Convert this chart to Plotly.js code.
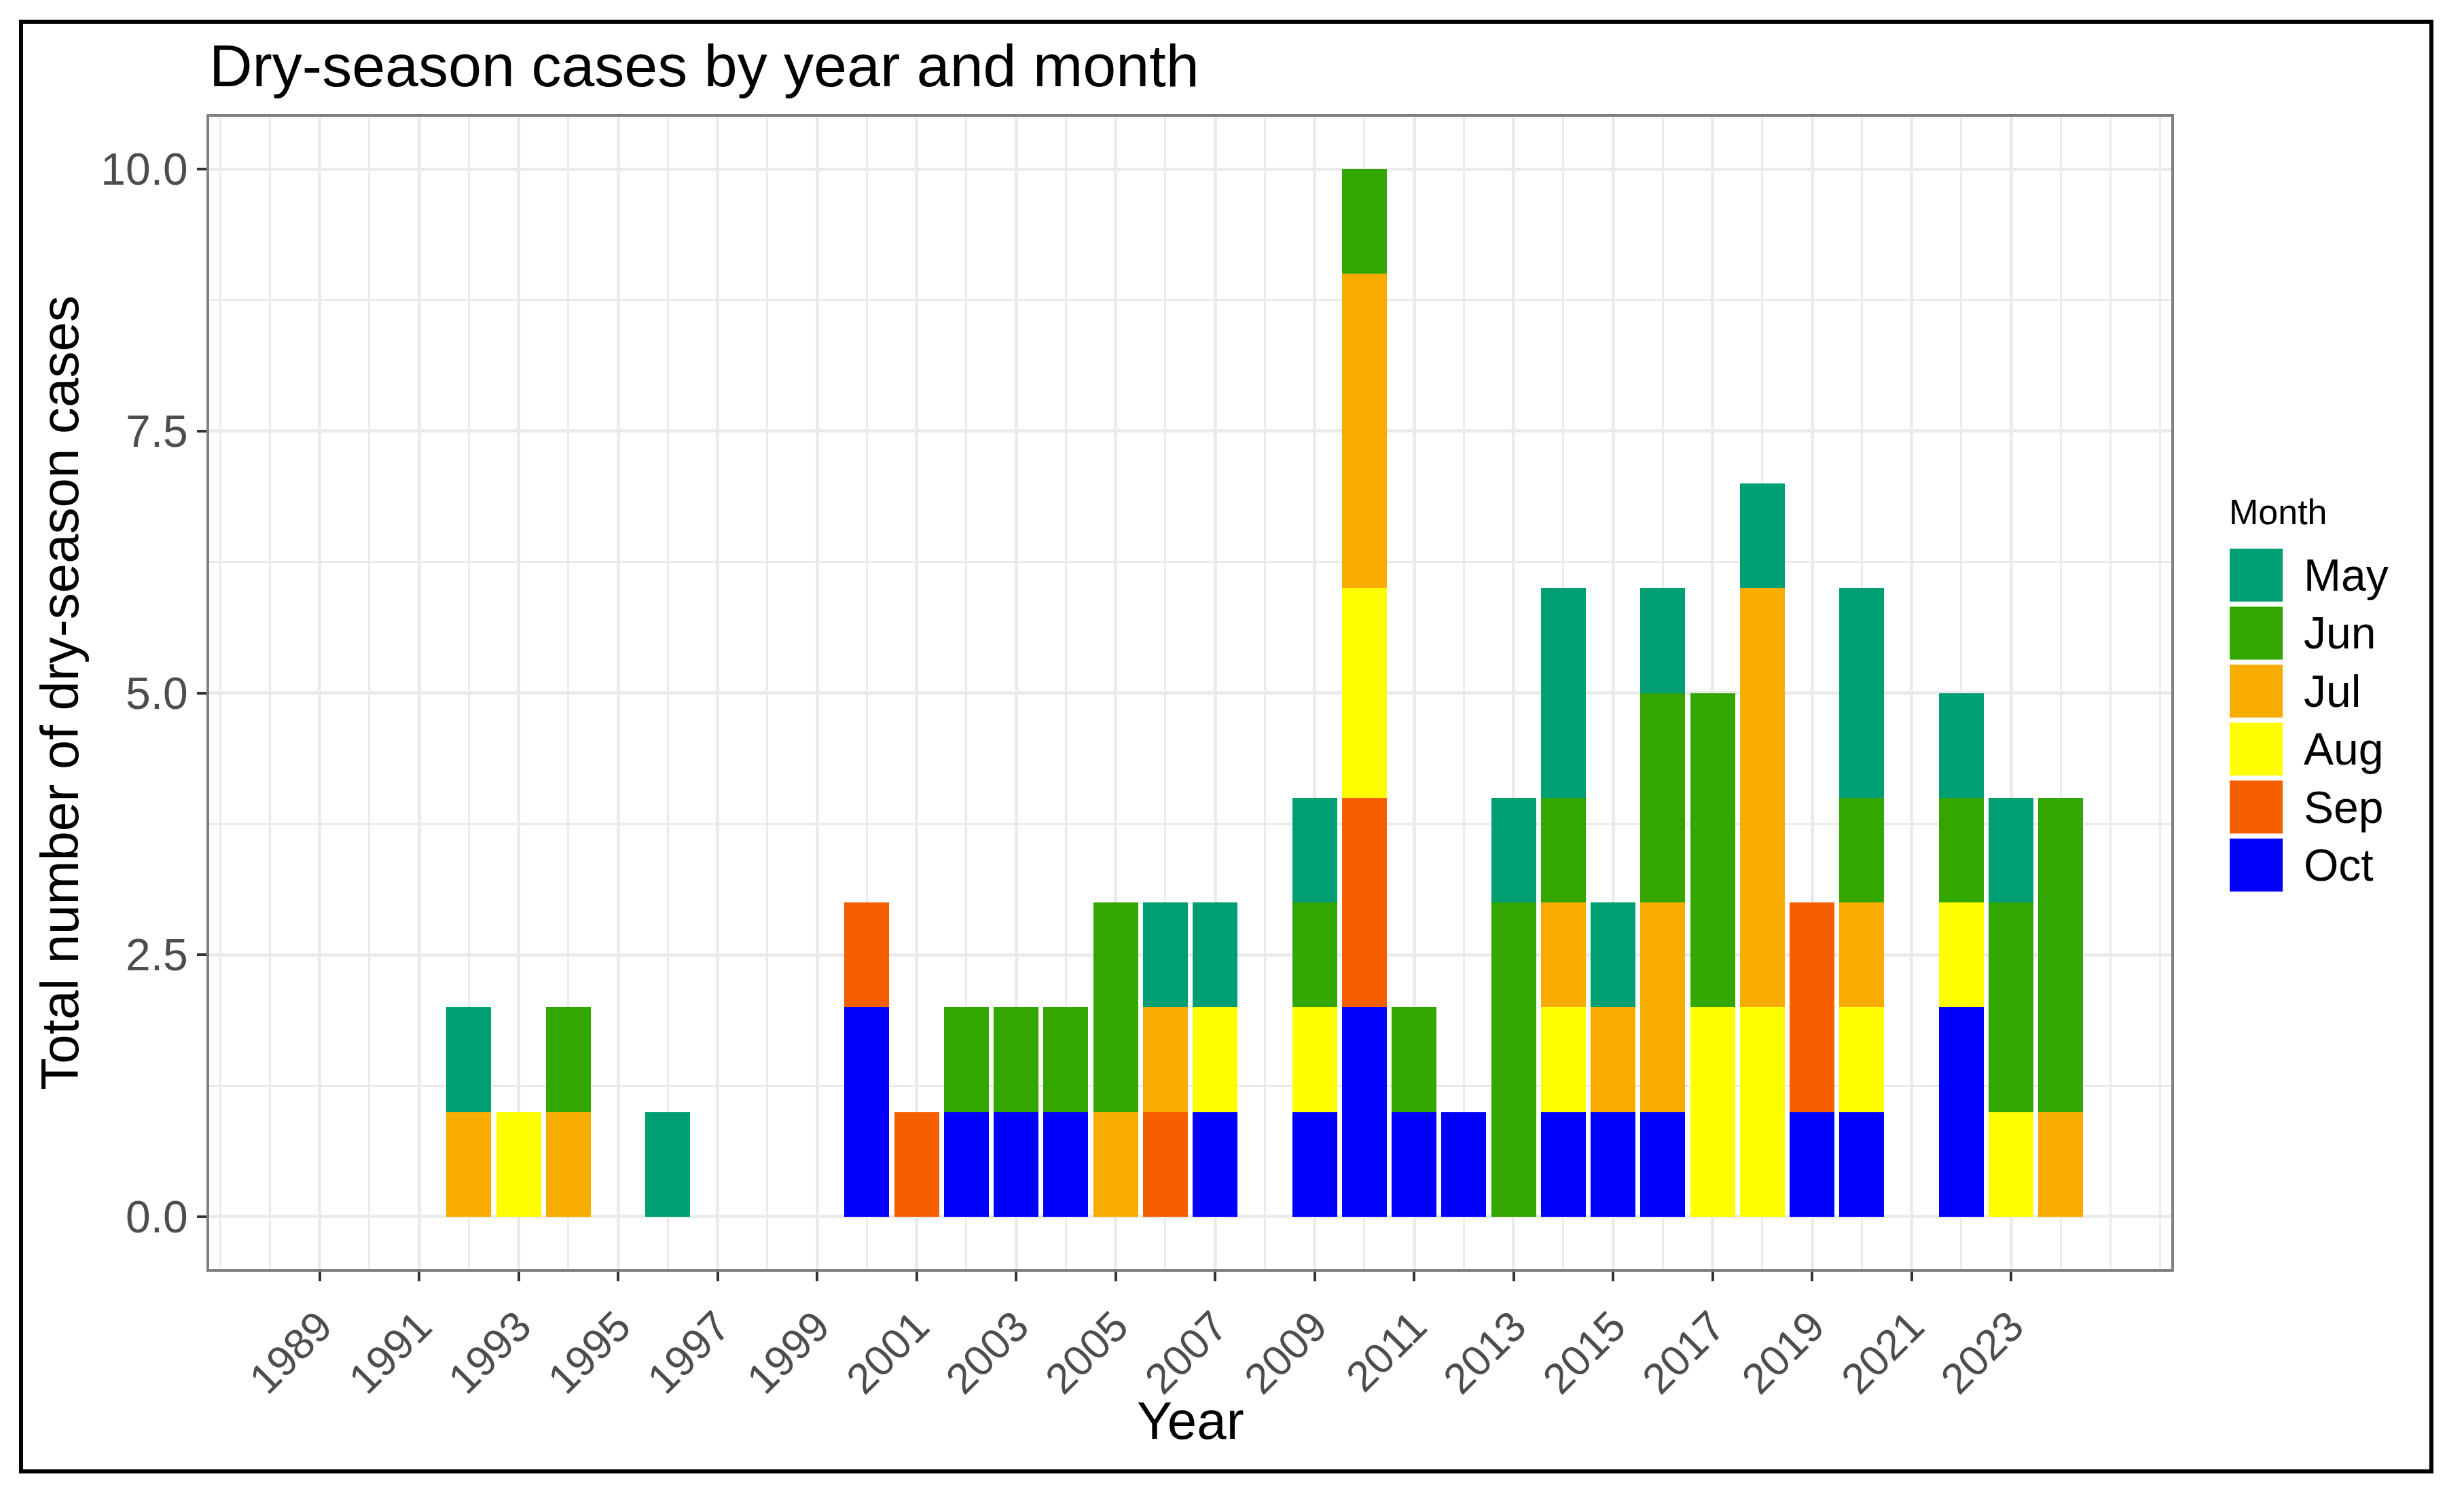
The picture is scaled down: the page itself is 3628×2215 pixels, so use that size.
<!DOCTYPE html>
<html>
<head>
<meta charset="utf-8">
<script src="https://cdn.plot.ly/plotly-3.0.1.min.js"></script>
<style>
  html, body { margin: 0; padding: 0; background: #ffffff; }
  #chart { position: absolute; left: 0; top: 0; width: 3628px; height: 2215px; }
  #frame {
    position: absolute; left: 28px; top: 29px; width: 3555px; height: 2141px;
    border: 6px solid #000000; box-sizing: border-box; pointer-events: none;
  }
</style>
</head>
<body>
<div id="chart"></div>
<div id="frame"></div>
<script>
// Dry-season cases per year, split by month of onset
const years = [1992, 1993, 1994, 1996, 2000, 2001, 2002, 2003, 2004, 2005, 2006, 2007, 2009,
               2010, 2011, 2012, 2013, 2014, 2015, 2016, 2017, 2018, 2019, 2020, 2022, 2023, 2024];

const octCases = [0, 0, 0, 0, 2, 0, 1, 1, 1, 0, 0, 1, 1, 2, 1, 1, 0, 1, 1, 1, 0, 0, 1, 1, 2, 0, 0];
const sepCases = [0, 0, 0, 0, 1, 1, 0, 0, 0, 0, 1, 0, 0, 2, 0, 0, 0, 0, 0, 0, 0, 0, 2, 0, 0, 0, 0];
const augCases = [0, 1, 0, 0, 0, 0, 0, 0, 0, 0, 0, 1, 1, 2, 0, 0, 0, 1, 0, 0, 2, 2, 0, 1, 1, 1, 0];
const julCases = [1, 0, 1, 0, 0, 0, 0, 0, 0, 1, 1, 0, 0, 3, 0, 0, 0, 1, 1, 2, 0, 4, 0, 1, 0, 0, 1];
const junCases = [0, 0, 1, 0, 0, 0, 1, 1, 1, 2, 0, 0, 1, 1, 1, 0, 3, 1, 0, 2, 3, 0, 0, 1, 1, 2, 3];
const mayCases = [1, 0, 0, 1, 0, 0, 0, 0, 0, 0, 1, 1, 1, 0, 0, 0, 1, 2, 1, 1, 0, 1, 0, 2, 1, 1, 0];

// Legend order (top to bottom) and fill colours
const monthNames  = ["May", "Jun", "Jul", "Aug", "Sep", "Oct"];
const monthColors = ["#009E73", "#33A600", "#F9AC00", "#FFFF00", "#F65F00", "#0000FF"];
const monthValues = [mayCases, junCases, julCases, augCases, sepCases, octCases];

// Axis ticks
const xTickYears  = [1989, 1991, 1993, 1995, 1997, 1999, 2001, 2003, 2005, 2007,
                     2009, 2011, 2013, 2015, 2017, 2019, 2021, 2023];
const yTickValues = [0, 2.5, 5, 7.5, 10];
const yTickLabels = ["0.0", "2.5", "5.0", "7.5", "10.0"];

// Panel geometry (pixels)
const W = 3628, H = 2215;
const M = { l: 308, r: 431, t: 172, b: 346 };
const plotW = W - M.l - M.r;
const plotH = H - M.t - M.b;
const px2x = px => (px - M.l) / plotW;
const px2y = py => (H - M.b - py) / plotH;

const FONT = "Liberation Sans, Arial, Helvetica, sans-serif";

// Stack bottom-up: Oct first, May last
const traces = [];
for (let i = monthNames.length - 1; i >= 0; i--) {
  traces.push({
    type: "bar",
    name: monthNames[i],
    x: years,
    y: monthValues[i],
    width: 0.9,
    marker: { color: monthColors[i], line: { width: 0 } },
    showlegend: false,
    hoverinfo: "x+y+name"
  });
}

const shapes = [];
const annotations = [];

// x-axis title, centred under the panel
annotations.push({
  text: "Year", xref: "paper", yref: "paper",
  x: 0.5, y: px2y(2092), xanchor: "center", yanchor: "middle",
  showarrow: false, font: { family: FONT, size: 78, color: "#000000" }
});

// Legend drawn as keys + labels to the right of the panel
annotations.push({
  text: "Month", xref: "paper", yref: "paper",
  x: px2x(3280), y: px2y(754), xanchor: "left", yanchor: "middle",
  showarrow: false, font: { family: FONT, size: 52, color: "#000000" }
});
const keyLeft = 3283, keyRight = 3361, keyTop0 = 808, keyStep = 85.4, keySize = 78;
monthNames.forEach((m, i) => {
  const top = keyTop0 + i * keyStep;
  shapes.push({
    type: "rect", xref: "paper", yref: "paper",
    x0: px2x(keyLeft), x1: px2x(keyRight), y0: px2y(top + keySize), y1: px2y(top),
    fillcolor: monthColors[i], line: { width: 0 }
  });
  annotations.push({
    text: m, xref: "paper", yref: "paper",
    x: px2x(3390), y: px2y(top + keySize / 2), xanchor: "left", yanchor: "middle",
    showarrow: false, font: { family: FONT, size: 66, color: "#000000" }
  });
});

const layout = {
  width: W, height: H,
  margin: { l: M.l, r: M.r, t: M.t, b: M.b, pad: 0 },
  paper_bgcolor: "#ffffff", plot_bgcolor: "#ffffff",
  font: { family: FONT },
  barmode: "stack",
  showlegend: false,
  title: {
    text: "Dry-season cases by year and month",
    font: { family: FONT, size: 88, color: "#000000" },
    xref: "paper", x: 0, xanchor: "left",
    yref: "container", y: 1 - 96 / H, yanchor: "middle"
  },
  xaxis: {
    range: [1986.78, 2026.22],
    tickmode: "array", tickvals: xTickYears, ticktext: xTickYears.map(String),
    tickangle: -45,
    tickfont: { family: FONT, size: 63, color: "#4d4d4d" },
    ticks: "outside", ticklen: 14, tickwidth: 4, tickcolor: "#333333",
    ticklabelstandoff: 4,
    showgrid: true, gridcolor: "#ebebeb", gridwidth: 5,
    minor: { tickmode: "linear", tick0: 1987, dtick: 1, showgrid: true,
             gridcolor: "#ebebeb", gridwidth: 3, ticks: "" },
    showline: true, mirror: true, linecolor: "#808080", linewidth: 4,
    zeroline: false, fixedrange: true
  },
  yaxis: {
    range: [-0.5, 10.5],
    tickmode: "array", tickvals: yTickValues, ticktext: yTickLabels,
    tickfont: { family: FONT, size: 66, color: "#4d4d4d" },
    ticks: "outside", ticklen: 14, tickwidth: 4, tickcolor: "#333333",
    ticklabelstandoff: 0,
    showgrid: true, gridcolor: "#ebebeb", gridwidth: 5,
    minor: { tickmode: "linear", tick0: 0, dtick: 1.25, showgrid: true,
             gridcolor: "#ebebeb", gridwidth: 3, ticks: "" },
    showline: true, mirror: true, linecolor: "#808080", linewidth: 4,
    zeroline: false, fixedrange: true,
    title: { text: "Total number of dry-season cases",
             font: { family: FONT, size: 78, color: "#000000" }, standoff: 8 }
  },
  shapes: shapes,
  annotations: annotations
};

Plotly.newPlot("chart", traces, layout, { staticPlot: true, displayModeBar: false });
</script>
</body>
</html>
